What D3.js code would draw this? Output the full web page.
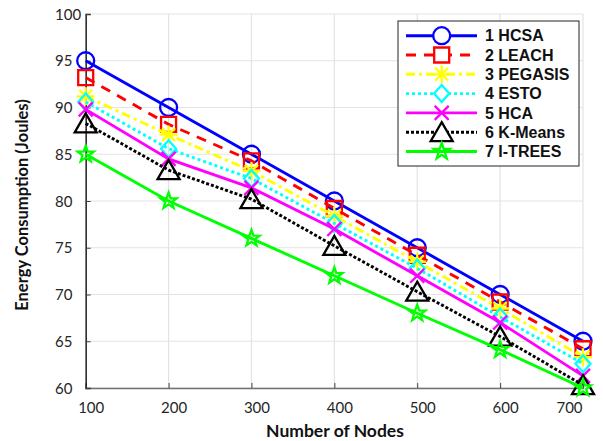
<!DOCTYPE html>
<html><head><meta charset="utf-8">
<script src="https://cdn.jsdelivr.net/npm/d3@7"></script>
<style>body{margin:0;background:#fff}svg{display:block}</style>
</head><body>
<svg id="c" width="603" height="441"></svg>
<script>
const nodes = [100, 200, 300, 400, 500, 600, 700];
const seriesNames = ["1 HCSA", "2 LEACH", "3 PEGASIS", "4 ESTO", "5 HCA", "6 K-Means", "7 I-TREES"];
const hcsa    = [95, 90, 85, 80, 75, 70, 65];
const leach   = [93.2, 88.2, 84.3, 79.2, 74.2, 69.2, 64.2];
const pegasis = [91.2, 87.1, 83.2, 78.4, 73.5, 68.5, 63.3];
const esto    = [90.6, 85.6, 82.4, 77.6, 72.8, 67.6, 62.6];
const hca     = [89.8, 84.5, 81.4, 77.0, 72.0, 67.0, 61.3];
const kmeans  = [88.3, 83.3, 80.2, 75.2, 70.3, 65.5, 60.3];
const itrees  = [85.0, 80.0, 76.0, 72.0, 68.0, 64.1, 60.0];
const xTicks = [100, 200, 300, 400, 500, 600, 700];
const yTicks = [60, 65, 70, 75, 80, 85, 90, 95, 100];

const allSeries = [hcsa, leach, pegasis, esto, hca, kmeans, itrees];
const styles = [
  {color:"#0000ff", dash:null,        marker:"circle"},
  {color:"#ff0000", dash:"10,8",      marker:"square"},
  {color:"#ffff00", dash:"9,4,3,4",   marker:"asterisk"},
  {color:"#00ffff", dash:"3,3",       marker:"diamond"},
  {color:"#ff00ff", dash:null,        marker:"x"},
  {color:"#000000", dash:"3,2",       marker:"triangle"},
  {color:"#00ff00", dash:null,        marker:"star"}
];

const svg = d3.select("#c");
const L = 85.7, R = 583, T = 14, B = 388;
const x = d3.scaleLinear().domain([100, 700]).range([L, R]);
const y = d3.scaleLinear().domain([60, 100]).range([B, T]);

// grid
svg.append("g").selectAll("line").data(xTicks).join("line")
  .attr("x1", d => x(d)).attr("x2", d => x(d)).attr("y1", T).attr("y2", B)
  .attr("stroke", "#e3e3e3").attr("stroke-width", 1.2);
svg.append("g").selectAll("line").data(yTicks).join("line")
  .attr("x1", L).attr("x2", R).attr("y1", d => y(d)).attr("y2", d => y(d))
  .attr("stroke", "#e3e3e3").attr("stroke-width", 1.2);

// axes
const xAxis = d3.axisBottom(x).tickValues(xTicks).tickSize(-5).tickPadding(14).tickFormat(d3.format("d"));
const gx = svg.append("g").attr("transform", `translate(0,${B})`).call(xAxis);
gx.select(".domain").attr("stroke", "#707070").attr("stroke-width", 1.5);
gx.selectAll(".tick line").attr("stroke", "#404040");
gx.selectAll(".tick text").attr("font-family", "Lato, sans-serif").attr("font-size", 15)
  .attr("fill", "#262626")
  .attr("dx", d => d === xTicks[xTicks.length - 1] ? -14 : 5);

const yAxis = d3.axisLeft(y).tickValues(yTicks).tickSize(-5).tickPadding(0).tickFormat(d3.format("d"));
const gy = svg.append("g").attr("transform", `translate(${L},0)`).call(yAxis);
gy.select(".domain").attr("stroke", "#262626").attr("stroke-width", 1.5);
gy.selectAll(".tick line").attr("stroke", "#404040");
gy.selectAll(".tick text").attr("font-family", "Lato, sans-serif").attr("font-size", 15)
  .attr("fill", "#262626").attr("text-anchor", "start").attr("x", 55 - L).attr("dy", "0.34em");

// titles
svg.append("text").attr("x", 335).attr("y", 437).attr("text-anchor", "middle")
  .attr("font-family", "Lato, sans-serif").attr("font-weight", "bold").attr("font-size", 17.5)
  .attr("fill", "#111").text("Number of Nodes");
svg.append("text").attr("transform", "translate(28,205) rotate(-90)").attr("text-anchor", "middle")
  .attr("font-family", "Lato, sans-serif").attr("font-weight", "bold").attr("font-size", 16.5)
  .attr("fill", "#111").text("Energy Consumption (Joules)");

function markerPath(type) {
  const p = d3.path();
  if (type === "circle") { p.moveTo(8.5, 0); p.arc(0, 0, 8.5, 0, 2 * Math.PI); }
  else if (type === "square") { p.rect(-7.5, -7.5, 15, 15); }
  else if (type === "diamond") { p.moveTo(0, -8.5); p.lineTo(7.5, 0); p.lineTo(0, 8.5); p.lineTo(-7.5, 0); p.closePath(); }
  else if (type === "x") { p.moveTo(-7, -7); p.lineTo(7, 7); p.moveTo(-7, 7); p.lineTo(7, -7); }
  else if (type === "asterisk") {
    p.moveTo(-9, 0); p.lineTo(9, 0); p.moveTo(0, -9); p.lineTo(0, 9);
    p.moveTo(-6.5, -6.5); p.lineTo(6.5, 6.5); p.moveTo(-6.5, 6.5); p.lineTo(6.5, -6.5);
  }
  else if (type === "triangle") { p.moveTo(0, -10); p.lineTo(11, 9); p.lineTo(-11, 9); p.closePath(); }
  else if (type === "star") {
    const ro = 8.5, ri = 3.4;
    for (let i = 0; i < 10; i++) {
      const r = i % 2 ? ri : ro, a = -Math.PI / 2 + i * Math.PI / 5;
      const px = r * Math.cos(a), py = r * Math.sin(a);
      if (i === 0) p.moveTo(px, py); else p.lineTo(px, py);
    }
    p.closePath();
  }
  return p.toString();
}

const line = d3.line().x((d, i) => x(nodes[i])).y(d => y(d));
const plot = svg.append("g");
allSeries.forEach((vals, si) => {
  const st = styles[si];
  const g = plot.append("g");
  g.append("path").attr("d", line(vals)).attr("fill", "none")
    .attr("stroke", st.color).attr("stroke-width", 2.9)
    .attr("stroke-dasharray", st.dash);
  g.selectAll("path.m").data(vals).join("path").attr("class", "m")
    .attr("transform", (d, i) => `translate(${x(nodes[i])},${y(d)})`)
    .attr("d", markerPath(st.marker)).attr("fill", "none")
    .attr("stroke", st.color).attr("stroke-width", 2.3);
});

// legend
const lg = svg.append("g");
lg.append("rect").attr("x", 398).attr("y", 21).attr("width", 181).attr("height", 145)
  .attr("fill", "#fff").attr("stroke", "#222").attr("stroke-width", 1);
seriesNames.forEach((name, i) => {
  const st = styles[i];
  const cy = 35.7 + i * 19.3;
  lg.append("line").attr("x1", 406).attr("x2", 477).attr("y1", cy).attr("y2", cy)
    .attr("stroke", st.color).attr("stroke-width", 2.9).attr("stroke-dasharray", st.dash);
  lg.append("path").attr("transform", `translate(441.7,${cy})`).attr("d", markerPath(st.marker))
    .attr("fill", st.marker === "circle" || st.marker === "square" || st.marker === "diamond" || st.marker === "triangle" ? "#fff" : "none")
    .attr("stroke", st.color).attr("stroke-width", 2.3);
  lg.append("text").attr("x", 485).attr("y", cy).attr("dy", "0.36em")
    .attr("font-family", "'Liberation Sans', Arial, sans-serif").attr("font-weight", "bold")
    .attr("font-size", 16).attr("fill", "#111").text(name);
});
</script>
</body></html>
